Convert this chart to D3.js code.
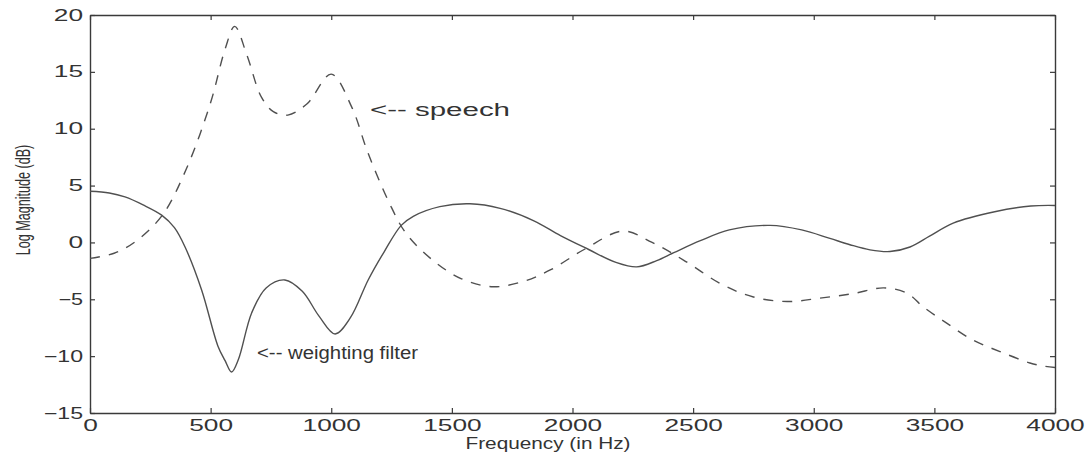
<!DOCTYPE html>
<html>
<head>
<meta charset="utf-8">
<script src="https://cdn.jsdelivr.net/npm/d3@7"></script>
<style>
  body { margin: 0; background: #fff; }
  svg { display: block; }
  text { font-family: "Liberation Sans", Arial, sans-serif; fill: #333; }
</style>
</head>
<body>
<svg id="chart" width="1091" height="453"></svg>
<script>
// values
const speechHz = [0, 100, 190, 300, 400, 500, 560, 600, 650, 710, 760, 820, 900, 1000,
                  1085, 1150, 1240, 1310, 1420, 1540, 1670, 1800, 1910, 2050, 2210, 2330,
                  2460, 2620, 2750, 2890, 3026, 3163, 3290, 3385, 3453, 3551, 3661, 3772, 3896, 3960, 4000];
const speechDb = [-1.4, -0.95, 0.1, 2.4, 6.5, 12.3, 17.0, 19.0, 16.5, 12.8, 11.5, 11.2, 12.2, 14.8,
                  11.9, 8.0, 3.5, 0.8, -1.55, -3.2, -3.9, -3.4, -2.4, -0.6, 1.0, 0.0,
                  -1.55, -3.7, -4.8, -5.2, -4.9, -4.5, -4.0, -4.45, -5.65, -7.1, -8.6, -9.6, -10.6, -10.9, -11.0];

const weightHz = [0, 80, 145, 220, 297, 350, 394, 463, 530, 560, 587, 615, 670, 730, 808, 880, 950, 1016,
                  1080, 1153, 1220, 1290, 1340, 1450, 1575, 1700, 1840, 1950, 2065, 2180, 2266, 2349,
                  2420, 2530, 2650, 2819, 2950, 3067, 3150, 3233, 3316, 3399, 3480, 3578, 3750, 3900, 4000];
const weightDb = [4.5, 4.35, 4.0, 3.3, 2.4, 1.3, -0.4, -4.2, -9.1, -10.4, -11.4, -10.3, -6.2, -4.0, -3.3, -4.3, -6.5, -8.05,
                  -6.6, -3.3, -0.8, 1.5, 2.3, 3.15, 3.4, 3.0, 1.9, 0.6, -0.6, -1.75, -2.15, -1.6,
                  -0.9, 0.15, 1.1, 1.5, 1.1, 0.35, -0.2, -0.65, -0.8, -0.4, 0.55, 1.7, 2.7, 3.2, 3.25];

const xTicks = [0, 500, 1000, 1500, 2000, 2500, 3000, 3500, 4000];
const yTicks = [-15, -10, -5, 0, 5, 10, 15, 20];

const svg    = d3.select("#chart"),
      margin = {top: 15, right: 36, bottom: 40, left: 90},
      width  = +svg.attr("width")  - margin.left - margin.right,
      height = +svg.attr("height") - margin.top  - margin.bottom,
      x      = d3.scaleLinear().domain([0, 4000]).range([0, width]),
      y      = d3.scaleLinear().domain([-15, 20]).range([height, 0]),
      g      = svg.append("g")
                  .attr("transform", `translate(${margin.left},${margin.top})`);

const ink = "#3a3a3a";

// wide scanned digits: stretch each label to the width seen in the picture
function labelWidth(s) {
  return s.replace("-", "").length * 14.6 + (s.indexOf("-") >= 0 ? 10 : 0);
}

function styleAxis(sel, withLabels) {
  sel.select(".domain").attr("stroke", ink).attr("stroke-width", 1.4);
  sel.selectAll(".tick line").attr("stroke", ink).attr("stroke-width", 1.2);
  sel.selectAll(".tick text")
     .attr("fill", ink)
     .style("font-size", "16px")
     .style("font-family", "'Liberation Sans', Arial, sans-serif")
     .attr("textLength", d => withLabels ? labelWidth(String(d)) : null)
     .attr("lengthAdjust", "spacingAndGlyphs");
}

g.append("g")
    .attr("transform", `translate(0,${height})`)
    .call(d3.axisBottom(x).tickValues(xTicks).tickFormat(d3.format("d"))
            .tickSizeInner(-5).tickSizeOuter(0).tickPadding(7))
    .call(s => styleAxis(s, true));

g.append("g")
    .call(d3.axisTop(x).tickValues(xTicks).tickSizeInner(-5).tickSizeOuter(0).tickFormat(""))
    .call(s => styleAxis(s, false));

g.append("g")
    .call(d3.axisLeft(y).tickValues(yTicks).tickFormat(d3.format("d"))
            .tickSizeInner(-5).tickSizeOuter(0).tickPadding(7))
    .call(s => styleAxis(s, true));

g.append("g")
    .attr("transform", `translate(${width},0)`)
    .call(d3.axisRight(y).tickValues(yTicks).tickSizeInner(-5).tickSizeOuter(0).tickFormat(""))
    .call(s => styleAxis(s, false));

const line = d3.line()
    .x(d => x(d[0]))
    .y(d => y(d[1]))
    .curve(d3.curveCatmullRom.alpha(0.5));

g.append("path")
    .datum(d3.zip(weightHz, weightDb))
    .attr("fill", "none")
    .attr("stroke", "#505050")
    .attr("stroke-width", 1.4)
    .attr("d", line);

g.append("path")
    .datum(d3.zip(speechHz, speechDb))
    .attr("fill", "none")
    .attr("stroke", "#505050")
    .attr("stroke-width", 1.4)
    .attr("stroke-dasharray", "10,9")
    .attr("d", line);

// annotations
svg.append("text")
    .attr("x", 370)
    .attr("y", 116)
    .style("font-size", "18px")
    .attr("fill", ink)
    .attr("textLength", 140)
    .attr("lengthAdjust", "spacingAndGlyphs")
    .text("<-- speech");

svg.append("text")
    .attr("x", 257)
    .attr("y", 359)
    .style("font-size", "18px")
    .attr("fill", ink)
    .attr("textLength", 161)
    .attr("lengthAdjust", "spacingAndGlyphs")
    .text("<-- weighting filter");

// axis titles
svg.append("text")
    .attr("x", 548)
    .attr("y", 449)
    .attr("text-anchor", "middle")
    .style("font-size", "16px")
    .attr("fill", ink)
    .attr("textLength", 165)
    .attr("lengthAdjust", "spacingAndGlyphs")
    .text("Frequency (in Hz)");

// narrow face in the scan: squeeze along the text direction
svg.append("text")
    .attr("transform", "translate(30,200) rotate(-90) scale(0.63,1)")
    .attr("text-anchor", "middle")
    .style("font-size", "20px")
    .attr("fill", ink)
    .text("Log Magnitude (dB)");
</script>
</body>
</html>
